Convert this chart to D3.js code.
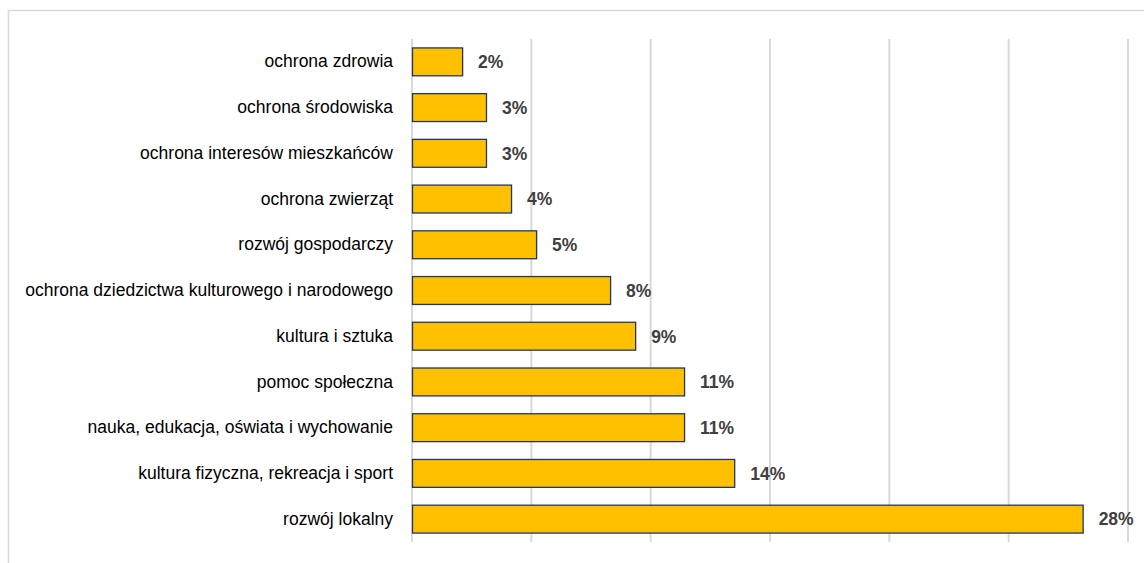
<!DOCTYPE html>
<html>
<head>
<meta charset="utf-8">
<script src="https://cdn.jsdelivr.net/npm/d3@7"></script>
<style>
  body { margin: 0; background: #fff; }
  .canvas svg { display: block; }
</style>
</head>
<body>
<div class="canvas"></div>
<script>
const categories = [
    'ochrona zdrowia',
    'ochrona środowiska',
    'ochrona interesów mieszkańców',
    'ochrona zwierząt',
    'rozwój gospodarczy',
    'ochrona dziedzictwa kulturowego i narodowego',
    'kultura i sztuka',
    'pomoc społeczna',
    'nauka, edukacja, oświata i wychowanie',
    'kultura fizyczna, rekreacja i sport',
    'rozwój lokalny'
];
const shares = [2.1, 3.1, 3.1, 4.15, 5.2, 8.3, 9.35, 11.4, 11.4, 13.5, 28.1];
const xTicks = [0, 5, 10, 15, 20, 25, 30];

const data = categories.map((c, i) => ({category: c, value: shares[i]}));

const outerWidth = 1144;
const outerHeight = 563;
const margin = {top: 39, right: 16, bottom: 21, left: 412};
const graphWidth = outerWidth - margin.left - margin.right;
const graphHeight = outerHeight - margin.top - margin.bottom;

const svg = d3.select('.canvas')
    .append('svg')
    .attr('width', outerWidth)
    .attr('height', outerHeight);

// chart frame
svg.append('rect')
    .attr('x', 8.5)
    .attr('y', 10.5)
    .attr('width', outerWidth)
    .attr('height', outerHeight)
    .attr('fill', 'none')
    .attr('stroke', '#d9d9d9')
    .attr('stroke-width', 1.5);

const graph = svg.append('g')
    .attr('transform', `translate(${margin.left}, ${margin.top})`);

const x = d3.scaleLinear().domain([0, 30]).range([0, graphWidth]);
const y = d3.scaleBand()
    .domain(categories)
    .range([0, graphHeight])
    .paddingInner(0.39)
    .paddingOuter(0.195);

// Gridlines
graph.append('g')
    .selectAll('line')
    .data(xTicks)
    .enter()
    .append('line')
    .attr('x1', d => x(d))
    .attr('x2', d => x(d))
    .attr('y1', 0)
    .attr('y2', graphHeight)
    .attr('stroke', '#d9d9d9')
    .attr('stroke-width', 2);

// Category axis
const yAxis = d3.axisLeft(y).tickSize(0).tickPadding(19);
const yAxisGroup = graph.append('g').call(yAxis);
yAxisGroup.select('.domain').remove();
yAxisGroup.selectAll('text')
    .attr('font-family', '"Liberation Sans", Arial, sans-serif')
    .attr('font-size', 17.5)
    .attr('fill', '#000');

// Bars
graph.selectAll('rect.bar')
    .data(data)
    .enter()
    .append('rect')
    .attr('class', 'bar')
    .attr('x', x(0) + 0.5)
    .attr('y', d => y(d.category))
    .attr('width', d => x(d.value) - x(0))
    .attr('height', y.bandwidth())
    .attr('fill', '#ffc000')
    .attr('stroke', '#1f3864')
    .attr('stroke-width', 1.3);

// Value labels
graph.selectAll('text.value')
    .data(data)
    .enter()
    .append('text')
    .attr('class', 'value')
    .attr('x', d => x(d.value) + 16)
    .attr('y', d => y(d.category) + y.bandwidth() / 2)
    .attr('dy', '0.36em')
    .attr('font-family', '"Liberation Sans", Arial, sans-serif')
    .attr('font-weight', 'bold')
    .attr('font-size', 17.5)
    .attr('fill', '#404040')
    .text(d => Math.round(d.value) + '%');
</script>
</body>
</html>
